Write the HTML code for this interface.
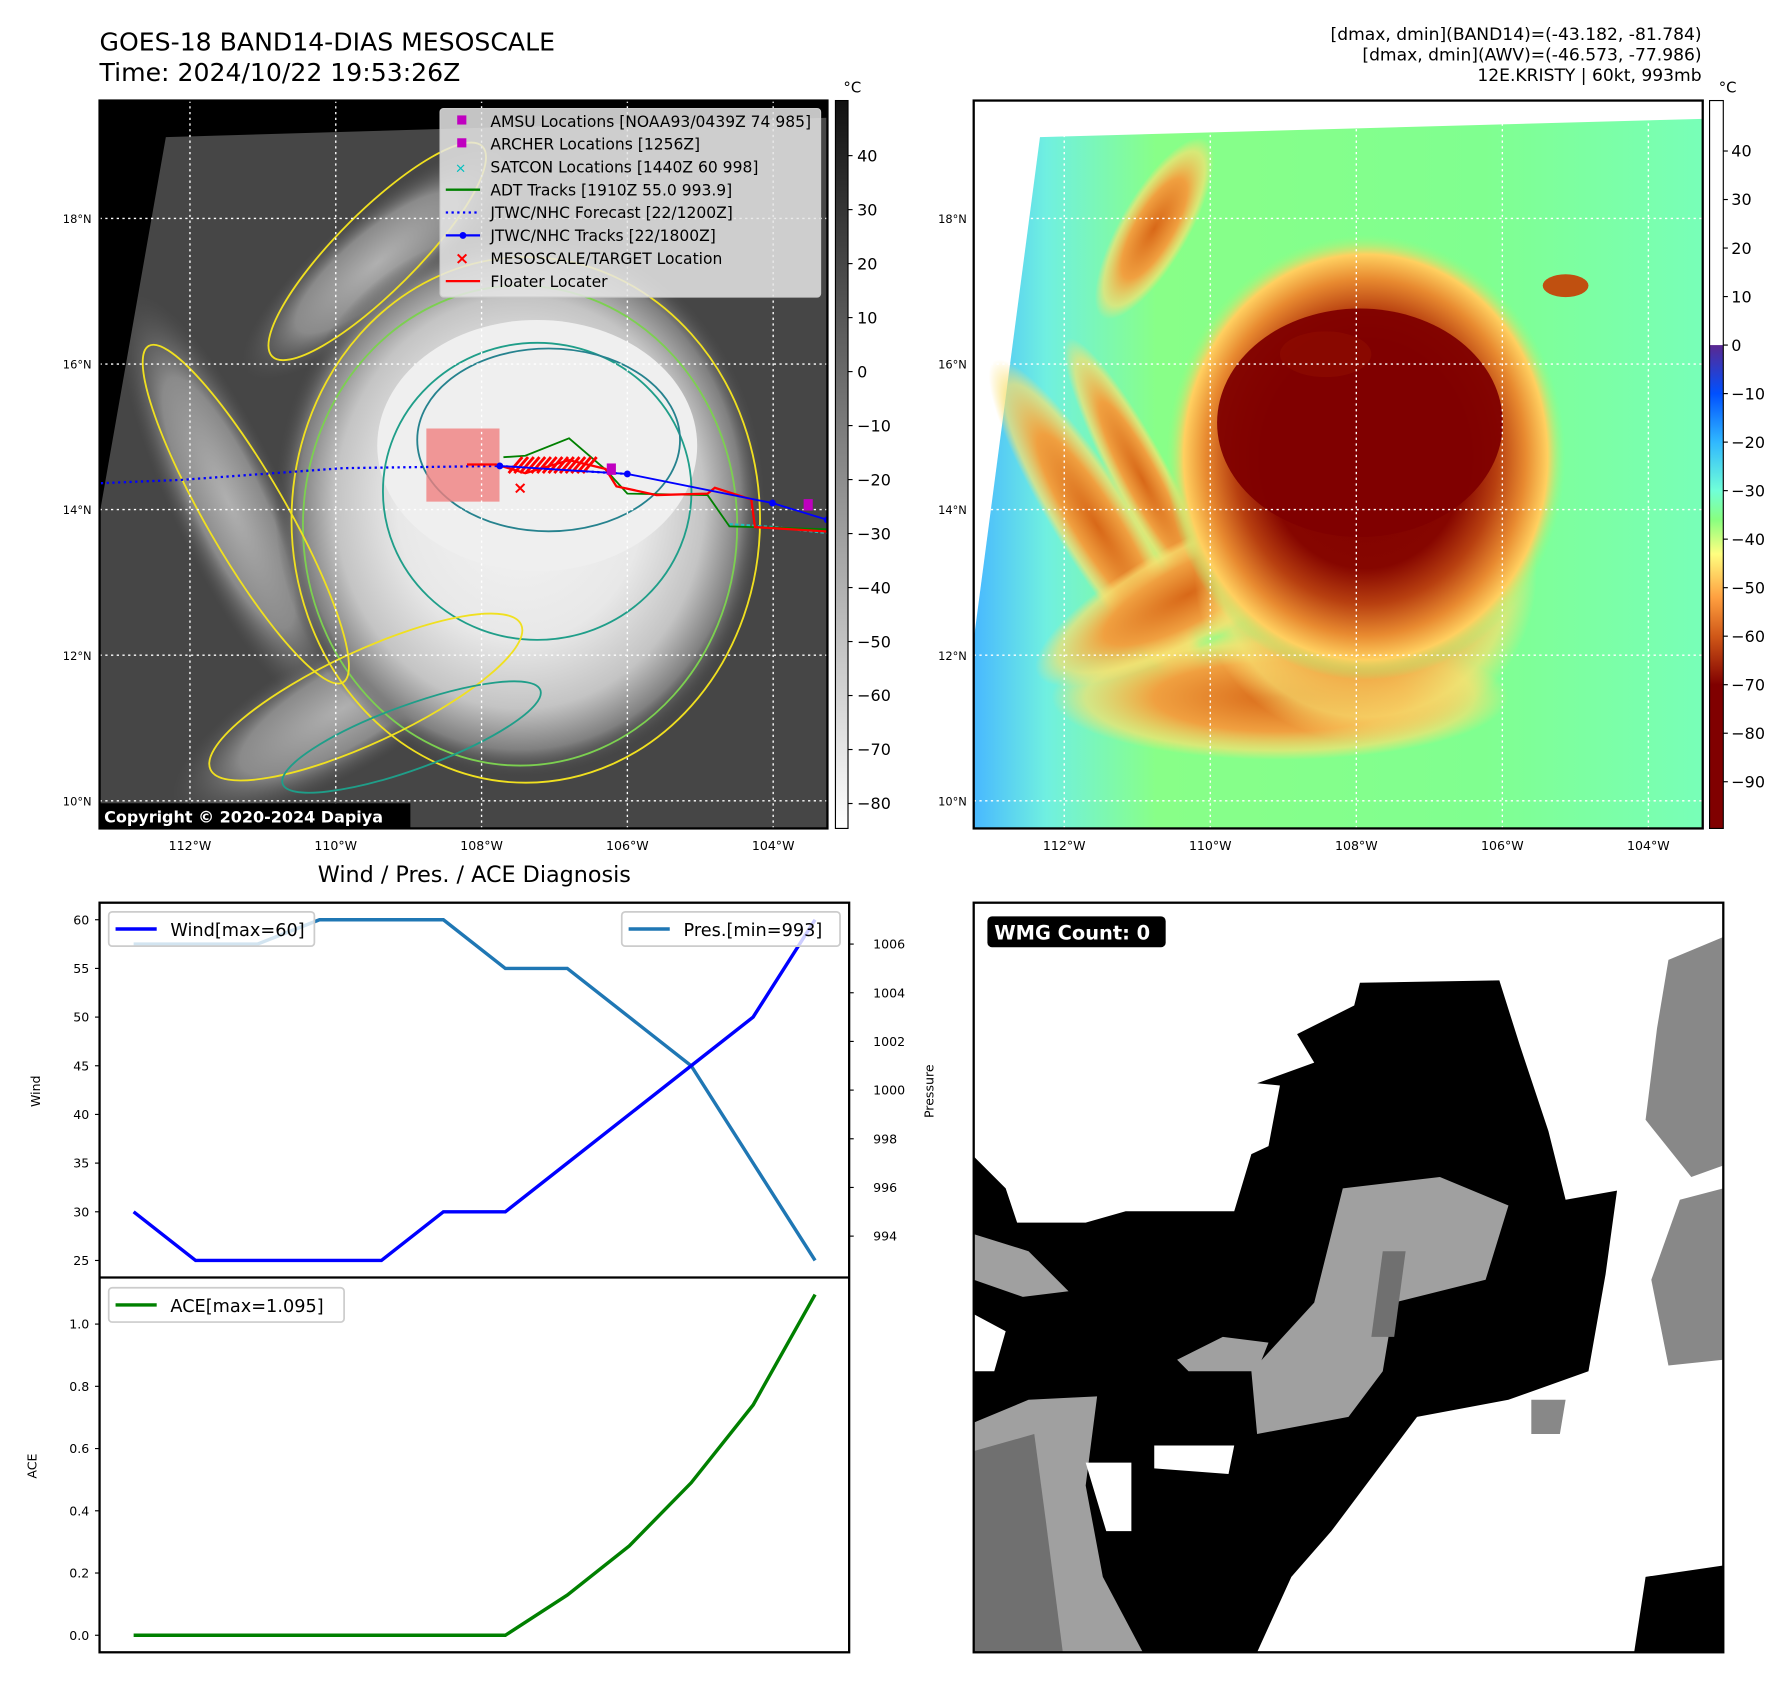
<!DOCTYPE html>
<html><head><meta charset="utf-8">
<style>
html,body{margin:0;padding:0;background:#fff;}
svg{display:block;font-family:"DejaVu Sans","Liberation Sans",sans-serif;}
</style></head>
<body>
<svg id="root" width="1792" height="1690" viewBox="0 0 1568 1479" xmlns="http://www.w3.org/2000/svg">
<defs>
  <radialGradient id="stormGray" cx="0.5" cy="0.5" r="0.5">
    <stop offset="0" stop-color="#f4f4f4"/>
    <stop offset="0.5" stop-color="#e8e8e8"/>
    <stop offset="0.75" stop-color="#c4c4c4"/>
    <stop offset="0.9" stop-color="#808080"/>
    <stop offset="1" stop-color="#4a4a4a" stop-opacity="0"/>
  </radialGradient>
  <radialGradient id="stormColor" cx="0.5" cy="0.5" r="0.5">
    <stop offset="0" stop-color="#800000"/>
    <stop offset="0.5" stop-color="#860600"/>
    <stop offset="0.66" stop-color="#b84010"/>
    <stop offset="0.8" stop-color="#e88a30"/>
    <stop offset="0.91" stop-color="#ffd060"/>
    <stop offset="1" stop-color="#90ff80" stop-opacity="0"/>
  </radialGradient>
  <radialGradient id="bandColor" cx="0.5" cy="0.5" r="0.5">
    <stop offset="0" stop-color="#d86818"/>
    <stop offset="0.55" stop-color="#f0a040"/>
    <stop offset="0.85" stop-color="#f8e070" stop-opacity="0.7"/>
    <stop offset="1" stop-color="#ffe070" stop-opacity="0"/>
  </radialGradient>
  <radialGradient id="bandGray" cx="0.5" cy="0.5" r="0.5">
    <stop offset="0" stop-color="#b0b0b0"/>
    <stop offset="0.6" stop-color="#8a8a8a"/>
    <stop offset="1" stop-color="#555" stop-opacity="0"/>
  </radialGradient>
  <linearGradient id="bgColor" x1="0" y1="0" x2="1" y2="0">
    <stop offset="0" stop-color="#48b8ff"/>
    <stop offset="0.1" stop-color="#70f0e0"/>
    <stop offset="0.25" stop-color="#88ff88"/>
    <stop offset="0.7" stop-color="#80ff90"/>
    <stop offset="1" stop-color="#78ffb8"/>
  </linearGradient>
  <linearGradient id="cbGray" x1="0" y1="0" x2="0" y2="1">
    <stop offset="0" stop-color="#111"/>
    <stop offset="1" stop-color="#fff"/>
  </linearGradient>
  <clipPath id="clipL"><rect x="87" y="88" width="637" height="637"/></clipPath>
  <clipPath id="clipR"><rect x="852" y="88" width="638" height="637"/></clipPath>
  <clipPath id="clipW"><rect x="852" y="790" width="656" height="656"/></clipPath>
</defs>

<!-- titles -->
<text x="87" y="44" font-size="22">GOES-18 BAND14-DIAS MESOSCALE</text>
<text x="87" y="71" font-size="22">Time: 2024/10/22 19:53:26Z</text>
<g font-size="15" text-anchor="end">
  <text x="1489" y="35">[dmax, dmin](BAND14)=(-43.182, -81.784)</text>
  <text x="1489" y="53">[dmax, dmin](AWV)=(-46.573, -77.986)</text>
  <text x="1489" y="71">12E.KRISTY | 60kt, 993mb</text>
</g>

<!-- LEFT MAP -->
<g id="mapL" clip-path="url(#clipL)">
  <rect x="87" y="88" width="637" height="637" fill="#464646"/>
  <ellipse cx="200" cy="440" rx="50" ry="200" fill="url(#bandGray)" transform="rotate(-25 200 440)"/>
  <ellipse cx="300" cy="620" rx="55" ry="170" fill="url(#bandGray)" transform="rotate(60 300 620)"/>
  <ellipse cx="330" cy="230" rx="45" ry="150" fill="url(#bandGray)" transform="rotate(50 330 230)"/>
  <ellipse cx="455" cy="440" rx="215" ry="240" fill="url(#stormGray)"/>
  <ellipse cx="470" cy="390" rx="140" ry="110" fill="#efefef"/>
  <path d="M0,0 L724,0 L724,103 L145,120 L87,450 L0,450 Z" fill="#000"/>
  <g fill="none" stroke-width="1.6">
    <ellipse cx="460" cy="455" rx="205" ry="230" stroke="#f0e020"/>
    <ellipse cx="455" cy="460" rx="190" ry="210" stroke="#7cd050"/>
    <ellipse cx="470" cy="430" rx="135" ry="130" stroke="#1f9e89"/>
    <ellipse cx="480" cy="385" rx="115" ry="80" stroke="#26828e"/>
    <ellipse cx="215" cy="450" rx="35" ry="170" stroke="#f0e020" transform="rotate(-30 215 450)"/>
    <ellipse cx="320" cy="610" rx="40" ry="150" stroke="#f0e020" transform="rotate(65 320 610)"/>
    <ellipse cx="330" cy="220" rx="35" ry="130" stroke="#f0e020" transform="rotate(45 330 220)"/>
    <ellipse cx="360" cy="645" rx="28" ry="120" stroke="#1f9e89" transform="rotate(70 360 645)"/>
  </g>
  <rect x="373" y="375" width="64" height="64" fill="#f08080" opacity="0.8"/>
  <g id="gridL" stroke="#fff" stroke-width="1.2" stroke-dasharray="2,3"></g>
  <g id="tracksL"></g>
</g>
<rect x="87" y="88" width="637" height="637" fill="none" stroke="#000" stroke-width="2"/>
<rect x="87" y="703" width="272" height="22" fill="#000"/>
<text x="91" y="720" font-size="14" font-weight="bold" fill="#fff">Copyright © 2020-2024 Dapiya</text>

<!-- legend -->
<g>
  <rect x="385" y="95" width="333" height="165" rx="3" fill="#e6e6e6" fill-opacity="0.85" stroke="#ccc"/>
  <g font-size="13.6">
    <rect x="400" y="101" width="8" height="8" fill="#c000c0"/><text x="429" y="111">AMSU Locations [NOAA93/0439Z 74 985]</text>
    <rect x="400" y="121" width="8" height="8" fill="#c000c0"/><text x="429" y="131">ARCHER Locations [1256Z]</text>
    <text x="398" y="151" fill="#00c0c0" font-size="12">×</text><text x="429" y="151">SATCON Locations [1440Z 60 998]</text>
    <line x1="390" y1="166" x2="420" y2="166" stroke="#008000" stroke-width="2"/><text x="429" y="171">ADT Tracks [1910Z 55.0 993.9]</text>
    <line x1="390" y1="186" x2="420" y2="186" stroke="#0000ff" stroke-width="2" stroke-dasharray="2,3"/><text x="429" y="191">JTWC/NHC Forecast [22/1200Z]</text>
    <line x1="390" y1="206" x2="420" y2="206" stroke="#0000ff" stroke-width="2"/><circle cx="405" cy="206" r="3" fill="#0000ff"/><text x="429" y="211">JTWC/NHC Tracks [22/1800Z]</text>
    <text x="398" y="231" fill="#f00" font-size="15" font-weight="bold">×</text><text x="429" y="231">MESOSCALE/TARGET Location</text>
    <line x1="390" y1="246" x2="420" y2="246" stroke="#f00" stroke-width="2"/><text x="429" y="251">Floater Locater</text>
  </g>
</g>

<!-- left colorbar -->
<rect x="731" y="88" width="11" height="637" fill="url(#cbGray)" stroke="#000" stroke-width="1"/>
<text x="738" y="81" font-size="13">°C</text>
<g id="cbL" font-size="14"></g>

<!-- RIGHT MAP -->
<g clip-path="url(#clipR)">
  <rect x="852" y="88" width="638" height="637" fill="#fff"/>
  <path d="M910,120 L1490,104 L1490,725 L852,725 L852,560 Z" fill="url(#bgColor)"/>
  <ellipse cx="960" cy="460" rx="35" ry="170" fill="url(#bandColor)" transform="rotate(-32 960 460)"/>
  <ellipse cx="1000" cy="420" rx="25" ry="140" fill="url(#bandColor)" transform="rotate(-28 1000 420)"/>
  <ellipse cx="1010" cy="200" rx="30" ry="90" fill="url(#bandColor)" transform="rotate(30 1010 200)"/>
  <ellipse cx="1120" cy="610" rx="200" ry="55" fill="url(#bandColor)"/>
  <ellipse cx="1040" cy="520" rx="45" ry="150" fill="url(#bandColor)" transform="rotate(62 1040 520)"/>
  <ellipse cx="1195" cy="500" rx="150" ry="150" fill="url(#bandColor)"/>
  <ellipse cx="1195" cy="400" rx="175" ry="195" fill="url(#stormColor)"/>
  <ellipse cx="1190" cy="370" rx="125" ry="100" fill="#800000" opacity="0.95"/>
  <ellipse cx="1160" cy="310" rx="40" ry="20" fill="#900e00" opacity="0.6"/>
  <ellipse cx="1370" cy="250" rx="20" ry="10" fill="#c05010"/>
  <g id="gridR" stroke="#fff" stroke-width="1.2" stroke-dasharray="2,3"></g>
</g>
<rect x="852" y="88" width="638" height="637" fill="none" stroke="#000" stroke-width="2"/>
<g>
  <rect x="1496" y="88" width="12" height="214" fill="#fff"/>
  <rect id="cbRbar" x="1496" y="302" width="12" height="423"/>
  <rect x="1496" y="88" width="12" height="637" fill="none" stroke="#000"/>
</g>
<text x="1504" y="81" font-size="13">°C</text>
<g id="cbR" font-size="14"></g>

<!-- WIND / PRES / ACE -->
<text x="415" y="772" font-size="19.5" text-anchor="middle">Wind / Pres. / ACE Diagnosis</text>
<g id="diag"></g>

<!-- WMG -->
<g clip-path="url(#clipW)">
  <rect x="852" y="790" width="656" height="656" fill="#fff"/>
  <path d="M852,1012 L880,1040 L890,1070 L950,1070 L985,1060 L1080,1060 L1095,1010 L1110,1003 L1120,950 L1100,948 L1150,930 L1135,905 L1185,880 L1190,860 L1312,858 L1330,915 L1355,990 L1370,1050 L1415,1042 L1405,1115 L1390,1200 L1320,1225 L1240,1240 L1165,1340 L1130,1380 L1100,1446 L852,1446 Z" fill="#000"/>
  <path d="M1175,1040 L1260,1030 L1320,1055 L1300,1120 L1220,1140 L1210,1200 L1180,1240 L1100,1255 L1095,1200 L1150,1140 L1165,1080 Z" fill="#a0a0a0"/>
  <path d="M1030,1190 L1070,1170 L1110,1175 L1100,1200 L1040,1200 Z" fill="#a0a0a0"/>
  <path d="M1210,1095 L1230,1095 L1220,1170 L1200,1170 Z" fill="#707070"/>
  <path d="M1460,840 L1508,820 L1508,1020 L1480,1030 L1440,980 L1450,900 Z" fill="#888"/>
  <path d="M1470,1050 L1508,1040 L1508,1190 L1460,1195 L1445,1120 Z" fill="#888"/>
  <path d="M1340,1225 L1370,1225 L1365,1255 L1340,1255 Z" fill="#888"/>
  <path d="M852,1245 L900,1225 L960,1222 L950,1300 L965,1380 L1000,1446 L852,1446 Z" fill="#a0a0a0"/>
  <path d="M852,1270 L905,1255 L915,1330 L930,1446 L852,1446 Z" fill="#707070"/>
  <path d="M852,1080 L900,1095 L935,1130 L895,1135 L852,1120 Z" fill="#a0a0a0"/>
  <path d="M1010,1265 L1080,1265 L1075,1290 L1010,1285 Z" fill="#fff"/>
  <path d="M950,1280 L990,1280 L990,1340 L968,1340 Z" fill="#fff"/>
  <path d="M1440,1380 L1508,1370 L1508,1446 L1430,1446 Z" fill="#000"/>
  <path d="M852,1150 L880,1165 L870,1200 L852,1200 Z" fill="#fff"/>
</g>
<rect x="852" y="790" width="656" height="656" fill="none" stroke="#000" stroke-width="2"/>
<rect x="864" y="802" width="156" height="27" rx="4" fill="#000"/>
<text x="870" y="822" font-size="17" font-weight="bold" fill="#fff">WMG Count: 0</text>
</svg>

<script>
const NS = 'http://www.w3.org/2000/svg';
// ---- chart data ----
const steps = [0,1,2,3,4,5,6,7,8,9,10,11];
const windValues = [30,25,25,25,25,30,30,35,40,45,50,60];
const presValues = [1006,1006,1006,1007,1007,1007,1005,1005,1003,1001,997,993];
const aceValues = [0,0,0,0,0,0,0,0.129,0.287,0.49,0.74,1.095];
const windTicks = [25,30,35,40,45,50,55,60];
const presTicks = [994,996,998,1000,1002,1004,1006];
const aceTicks = [0.0,0.2,0.4,0.6,0.8,1.0];
const cbLTicks = [40,30,20,10,0,-10,-20,-30,-40,-50,-60,-70,-80];
const cbRTicks = [40,30,20,10,0,-10,-20,-30,-40,-50,-60,-70,-80,-90];
const lonTicks = [-112,-110,-108,-106,-104];
const latTicks = [18,16,14,12,10];
// track data (lon, lat)
const forecastLon = [-113.3,-112.1,-109.9,-107.75,-106.0];
const forecastLat = [14.36,14.41,14.57,14.60,14.49];
const jtwcLon = [-107.75,-106.0,-104.01,-103.26];
const jtwcLat = [14.60,14.49,14.09,13.86];
const floaterLon = [-108.2,-107.8,-107.4,-106.8,-106.3,-106.15,-105.6,-104.9,-104.8,-104.3,-104.25,-103.26];
const floaterLat = [14.62,14.62,14.50,14.68,14.56,14.32,14.20,14.22,14.30,14.14,13.76,13.70];
const adtLon = [-107.7,-107.4,-106.8,-106.3,-106.0,-104.9,-104.6,-103.26];
const adtLat = [14.72,14.74,14.98,14.55,14.22,14.20,13.77,13.73];
const satconLon = [-104.6,-104.0,-103.26];
const satconLat = [13.80,13.76,13.68];
const amsuLon = [-106.22,-103.52];
const amsuLat = [14.54,14.05];
const targetLon = [-107.47];
const targetLat = [14.30];

function el(tag, attrs, parent){const e=document.createElementNS(NS,tag);for(const k in attrs)e.setAttribute(k,attrs[k]);parent.appendChild(e);return e;}

function lonL(lon){return 87+(lon+113.24)*63.8;}
function latY(lat){return 88+(19.62-lat)*63.7;}
function lonR(lon){return 852+(lon+113.24)*63.9;}

const gL=document.getElementById('gridL'), gR=document.getElementById('gridR'), root=document.getElementById('root');
lonTicks.forEach(v=>{
  el('line',{x1:lonL(v),y1:88,x2:lonL(v),y2:725},gL);
  el('line',{x1:lonR(v),y1:88,x2:lonR(v),y2:725},gR);
  const lab=Math.abs(v)+'°W';
  const t1=el('text',{x:lonL(v),y:744,'font-size':11,'text-anchor':'middle'},root);t1.textContent=lab;
  
  
  const t2=el('text',{x:lonR(v),y:744,'font-size':11,'text-anchor':'middle'},root);t2.textContent=lab;
  
  
});
latTicks.forEach(v=>{
  el('line',{x1:87,y1:latY(v),x2:724,y2:latY(v)},gL);
  el('line',{x1:852,y1:latY(v),x2:1490,y2:latY(v)},gR);
  const lab=v+'°N';
  const t1=el('text',{x:80,y:latY(v)+4,'font-size':10,'text-anchor':'end'},root);t1.textContent=lab;
  
  
  const t2=el('text',{x:846,y:latY(v)+4,'font-size':10,'text-anchor':'end'},root);t2.textContent=lab;
  
  
});

const tr=document.getElementById('tracksL');
function pts(lons,lats){return lons.map((l,i)=>lonL(l)+','+latY(lats[i])).join(' ');}
const fc=el('polyline',{points:pts(forecastLon,forecastLat),fill:'none',stroke:'#0000ff','stroke-width':2,'stroke-dasharray':'2,3'},tr);


const sc=el('polyline',{points:pts(satconLon,satconLat),fill:'none',stroke:'#20c0c0','stroke-width':2,'stroke-dasharray':'3,2'},tr);


const adt=el('polyline',{points:pts(adtLon,adtLat),fill:'none',stroke:'#008000','stroke-width':1.6},tr);


const fl=el('polyline',{points:pts(floaterLon,floaterLat),fill:'none',stroke:'#ff0000','stroke-width':2},tr);


for(let i=0;i<14;i++){const x=445+i*5;const z=el('line',{x1:x,y1:414,x2:x+12,y2:400,stroke:'#f00','stroke-width':2.5},tr);

}
const jt=el('polyline',{points:pts(jtwcLon,jtwcLat),fill:'none',stroke:'#0000ff','stroke-width':1.6},tr);


jtwcLon.forEach((l,i)=>{const c=el('circle',{cx:lonL(l),cy:latY(jtwcLat[i]),r:3,fill:'#0000ff'},tr);

});
amsuLon.forEach((l,i)=>{const r=el('rect',{x:lonL(l)-4,y:latY(amsuLat[i])-6,width:8,height:10,fill:'#c000c0'},tr);

});
targetLon.forEach((l,i)=>{const t=el('text',{x:lonL(l),y:latY(targetLat[i])+5,'font-size':15,'font-weight':'bold',fill:'#f00','text-anchor':'middle'},tr);t.textContent='×';

});

function cbLy(v){return 88+(50.2-v)*4.725;}
function cbRy(v){return 88+(50.4-v)*4.246;}
const cbL=document.getElementById('cbL');
cbLTicks.forEach(v=>{el('line',{x1:742,y1:cbLy(v),x2:746,y2:cbLy(v),stroke:'#000'},cbL);
const t=el('text',{x:750,y:cbLy(v)+5},cbL);t.textContent=(v<0?'\u2212'+(-v):v);

});
const cbR=document.getElementById('cbR');
cbRTicks.forEach(v=>{el('line',{x1:1508,y1:cbRy(v),x2:1512,y2:cbRy(v),stroke:'#000'},cbR);
const t=el('text',{x:1515,y:cbRy(v)+5},cbR);t.textContent=(v<0?'\u2212'+(-v):v);

});
(function(){
  const defs=document.querySelector('defs');
  const g=el('linearGradient',{id:'cbRgrad',x1:0,y1:0,x2:0,y2:1},defs);
  const stops=[[0,'#5a2890'],[-10,'#0050ff'],[-20,'#30b8ff'],[-30,'#70ffd8'],[-36,'#88ff80'],[-43,'#ffff80'],[-52,'#ffa040'],[-60,'#d05818'],[-70,'#800000'],[-99.6,'#800000']];
  stops.forEach(s=>el('stop',{offset:((0-s[0])/99.6).toFixed(3),'stop-color':s[1]},g));
  document.getElementById('cbRbar').setAttribute('fill','url(#cbRgrad)');
})();

const d=document.getElementById('diag');
const X0=87,X1=743,TOP=790,MID=1118,BOT=1446;
function xs(i){return X0+(i+0.55)/(11+1.1)*(X1-X0);}
function yWind(v){return TOP+(61.75-v)/(61.75-23.25)*(MID-TOP);}
function yPres(v){return TOP+(1007.7-v)/(1007.7-992.3)*(MID-TOP);}
function yAce(v){const lo=-0.05475,hi=1.14975;return MID+(hi-v)/(hi-lo)*(BOT-MID);}
el('rect',{x:X0,y:TOP,width:X1-X0,height:BOT-TOP,fill:'none',stroke:'#000','stroke-width':2},d);
el('line',{x1:X0,y1:MID,x2:X1,y2:MID,stroke:'#000','stroke-width':2},d);
windTicks.forEach(v=>{el('line',{x1:X0-4,y1:yWind(v),x2:X0,y2:yWind(v),stroke:'#000'},d);
const t=el('text',{x:X0-9,y:yWind(v)+4,'font-size':11,'text-anchor':'end'},d);t.textContent=v;

});
presTicks.forEach(v=>{el('line',{x1:X1,y1:yPres(v),x2:X1+4,y2:yPres(v),stroke:'#000'},d);
const t=el('text',{x:X1+21,y:yPres(v)+4,'font-size':11},d);t.textContent=v;

});
aceTicks.forEach(v=>{el('line',{x1:X0-4,y1:yAce(v),x2:X0,y2:yAce(v),stroke:'#000'},d);
const t=el('text',{x:X0-9,y:yAce(v)+4,'font-size':11,'text-anchor':'end'},d);t.textContent=v.toFixed(1);

});
let t;
t=el('text',{x:35,y:955,'font-size':11,'text-anchor':'middle',transform:'rotate(-90 35 955)'},d);t.textContent='Wind';


t=el('text',{x:817,y:955,'font-size':11,'text-anchor':'middle',transform:'rotate(-90 817 955)'},d);t.textContent='Pressure';


t=el('text',{x:32,y:1283,'font-size':11,'text-anchor':'middle',transform:'rotate(-90 32 1283)'},d);t.textContent='ACE';


const pres=el('polyline',{points:steps.map(i=>xs(i)+','+yPres(presValues[i])).join(' '),fill:'none',stroke:'#1f77b4','stroke-width':3},d);


const wind=el('polyline',{points:steps.map(i=>xs(i)+','+yWind(windValues[i])).join(' '),fill:'none',stroke:'#0000ff','stroke-width':3},d);


const ace=el('polyline',{points:steps.map(i=>xs(i)+','+yAce(aceValues[i])).join(' '),fill:'none',stroke:'#008000','stroke-width':3},d);


function legend(x,y,w,color,label,name){
  const g=el('g',{},d);
  
  
  el('rect',{x:x,y:y,width:w,height:30,rx:3,fill:'#fff','fill-opacity':0.8,stroke:'#ccc','stroke-width':1.5},g);
  el('line',{x1:x+6,y1:y+15,x2:x+42,y2:y+15,stroke:color,'stroke-width':3},g);
  const tx=el('text',{x:x+54,y:y+21,'font-size':15.5},g);tx.textContent=label;
}
legend(95,798,180,'#0000ff','Wind[max=60]','wind-legend');
legend(544,798,191,'#1f77b4','Pres.[min=993]','pressure-legend');
legend(95,1127,206,'#008000','ACE[max=1.095]','ace-legend');
</script>
</body></html>
